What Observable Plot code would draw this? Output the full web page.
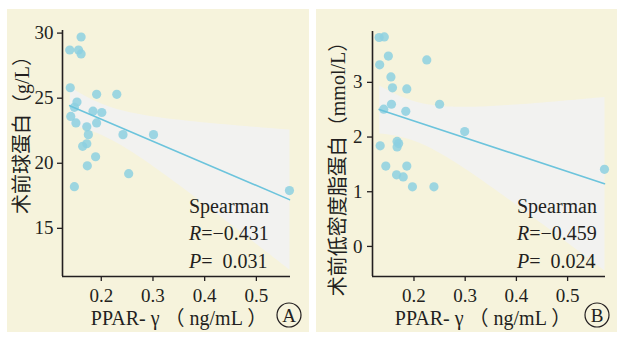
<!DOCTYPE html>
<html><head><meta charset="utf-8">
<script src="https://cdn.jsdelivr.net/npm/d3@7"></script>
<script src="https://cdn.jsdelivr.net/npm/@observablehq/plot@0.6"></script>
<style>
body{margin:0;background:#fff;}
#wrap{position:relative;width:617px;height:337px;overflow:hidden;background:#fff;}
.panel{position:absolute;top:9px;height:323px;background:#f6f3dc;}
</style></head>
<body>
<div id="wrap">
  <div id="pa" class="panel" style="left:7px;width:302px"></div>
  <div id="pb" class="panel" style="left:316px;width:301px"></div>
</div>
<script>
// Panel A: PPAR-γ vs 术前球蛋白
const ppA  = [0.139,0.161,0.156,0.161,0.140,0.153,0.148,0.141,0.151,0.191,0.230,0.184,0.201,0.191,0.172,0.175,0.242,0.301,0.172,0.164,0.189,0.173,0.253,0.148,0.564];
const gloA = [28.7,29.7,28.7,28.4,25.8,24.7,24.3,23.6,23.1,25.3,25.3,24.0,23.9,23.1,22.8,22.2,22.2,22.2,21.5,21.3,20.5,19.8,19.2,18.2,17.9];
// Panel B: PPAR-γ vs 术前低密度脂蛋白
const ppB  = [0.132,0.142,0.150,0.133,0.225,0.155,0.158,0.186,0.156,0.250,0.141,0.184,0.299,0.167,0.170,0.167,0.134,0.145,0.186,0.166,0.179,0.197,0.239,0.572];
const ldlB = [3.82,3.83,3.48,3.32,3.41,3.10,2.90,2.88,2.60,2.60,2.51,2.47,2.10,1.92,1.88,1.82,1.84,1.47,1.47,1.31,1.27,1.09,1.09,1.41];

const xTicks = [0.2,0.3,0.4,0.5];
const xTickLabels = ["0.2","0.3","0.4","0.5"];
const yTicksA = [15,20,25,30];
const yTickLabelsA = ["15","20","25","30"];
const yTicksB = [0,1,2,3];
const yTickLabelsB = ["0","1","2","3"];

const statsA = ["Spearman", "R", "=−0.431", "P", "=\u20020.031"];
const statsB = ["Spearman", "R", "=−0.459", "P", "=\u20020.024"];
const xTitle = "PPAR- γ （ ng/mL ）";
const yTitleA = "术前球蛋白（g/L）";
const yTitleB = "术前低密度脂蛋白（mmol/L）";
const tagA = "A", tagB = "B";

const SERIF = "'Liberation Serif','Times New Roman','Noto Sans CJK SC',serif";
const INK = "#231f20";

function panel(el, cfg) {
  const data = cfg.xs.map((x, i) => ({x, y: cfg.ys[i]}));
  const p = Plot.plot({
    width: cfg.width, height: 323,
    marginLeft: cfg.ml, marginRight: cfg.mr, marginTop: cfg.mt, marginBottom: 56,
    style: {background: "transparent", fontFamily: SERIF, fontSize: "19px", color: INK, overflow: "visible"},
    x: {domain: cfg.xd, label: null},
    y: {domain: cfg.yd, label: null},
    marks: [
      Plot.linearRegressionY(data, {x: "x", y: "y", ci: 0.95, fill: "#f2f2f0", fillOpacity: 1, stroke: "none"}),
      Plot.dot(data, {x: "x", y: "y", r: 4.6, fill: "#8dd0e1", fillOpacity: 0.85, stroke: "none"}),
      Plot.linearRegressionY(data, {x: "x", y: "y", ci: 0, stroke: "#6cc4dc", strokeWidth: 1.6}),
      Plot.axisX({ticks: xTicks, tickFormat: d => xTickLabels[xTicks.indexOf(d)], tickSize: 5, tickPadding: 7, label: null, stroke: INK, strokeWidth: 1.3}),
      Plot.axisY({ticks: cfg.yt, tickFormat: d => cfg.ytl[cfg.yt.indexOf(d)], tickSize: 5, tickPadding: cfg.tp, label: null, stroke: INK, strokeWidth: 1.3}),
      Plot.ruleX([cfg.xd[0]], {stroke: INK, strokeWidth: 1.6}),
      Plot.ruleY([cfg.yd[0]], {stroke: INK, strokeWidth: 1.6})
    ]
  });
  const svg = d3.select(p);
  const g = svg.append("g").attr("font-family", SERIF).attr("fill", INK).attr("text-anchor", "start");
  // stats text
  const s = cfg.stats;
  g.append("text").attr("x", cfg.sx).attr("y", 204).attr("font-size", 20).text(s[0]);
  const t1 = g.append("text").attr("x", cfg.sx).attr("y", 230.5).attr("font-size", 20);
  t1.append("tspan").attr("font-style", "italic").text(s[1]);
  t1.append("tspan").text(s[2]);
  const t2 = g.append("text").attr("x", cfg.sx).attr("y", 258.5).attr("font-size", 20);
  t2.append("tspan").attr("font-style", "italic").text(s[3]);
  t2.append("tspan").text(s[4]);
  // y title
  g.append("text")
    .attr("transform", `translate(${cfg.ytx},${cfg.yty}) rotate(-90)`)
    .attr("text-anchor", "middle").attr("dy", "0.35em").attr("font-size", 20)
    .text(cfg.ytitle);
  // x title
  g.append("text").attr("x", cfg.xtx).attr("y", 316).attr("text-anchor", "middle").attr("font-size", 20).attr("xml:space", "preserve").style("white-space", "pre").text(xTitle);
  // tag
  g.append("circle").attr("cx", cfg.cx).attr("cy", 306).attr("r", 12).attr("fill", "none").attr("stroke", INK).attr("stroke-width", 1.2);
  g.append("text").attr("x", cfg.cx).attr("y", 306).attr("dy", "0.35em").attr("text-anchor", "middle").attr("font-size", 19).text(cfg.tag);
  el.appendChild(p);
}

panel(document.getElementById("pa"), {
  xs: ppA, ys: gloA, width: 302, ml: 55, mr: 19, mt: 21,
  xd: [0.125, 0.566], yd: [11.3, 30.2], yt: yTicksA, ytl: yTickLabelsA, tp: 4,
  stats: statsA, sx: 182, ytitle: yTitleA, ytx: 15, yty: 121, xtx: 172, cx: 282, tag: tagA
});
panel(document.getElementById("pb"), {
  xs: ppB, ys: ldlB, width: 301, ml: 56, mr: 12, mt: 22,
  xd: [0.119, 0.574], yd: [-0.55, 3.93], yt: yTicksB, ytl: yTickLabelsB, tp: 5,
  stats: statsB, sx: 201, ytitle: yTitleB, ytx: 22, yty: 155, xtx: 167, cx: 281, tag: tagB
});
</script>
</body></html>
